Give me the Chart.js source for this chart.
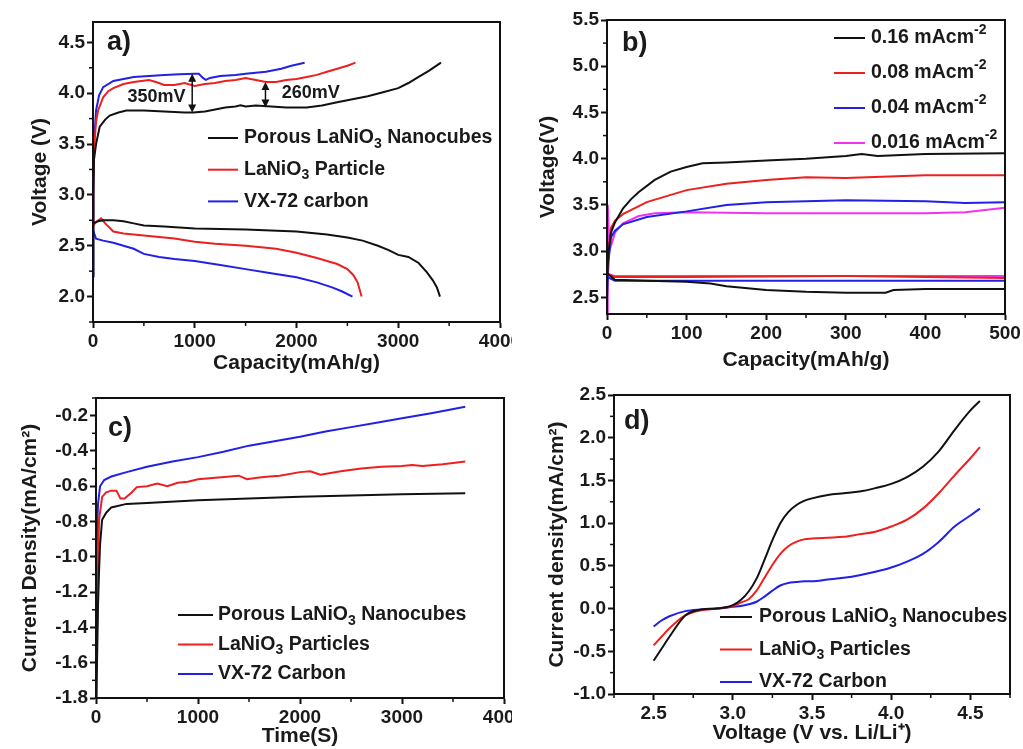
<!DOCTYPE html>
<html>
<head>
<meta charset="utf-8">
<script src="https://cdn.jsdelivr.net/npm/chart.js@4.4.1/dist/chart.umd.min.js"></script>
<style>
  body { margin: 0; background: #fff; }
  #quadro { position: relative; width: 1023px; height: 749px; overflow: hidden; background: #fff; }
  canvas { position: absolute; }
</style>
</head>
<body>
<div id="quadro">
  <canvas id="graficoA" width="512" height="380" style="left:0;top:0"></canvas>
  <canvas id="graficoB" width="511" height="380" style="left:512px;top:0"></canvas>
  <canvas id="graficoC" width="512" height="379" style="left:0;top:370px"></canvas>
  <canvas id="graficoD" width="511" height="379" style="left:512px;top:370px"></canvas>
</div>
<script>
// ---- a) charge / discharge, [capacity mAh/g, voltage V]
const aNanoCarga = [[0,2.2],[4,3.0],[10,3.35],[30,3.5],[66,3.67],[120,3.74],[164,3.78],[250,3.81],[328,3.83],[500,3.83],[700,3.82],[900,3.81],[985,3.81],[1100,3.82],[1200,3.84],[1300,3.86],[1400,3.87],[1450,3.88],[1500,3.87],[1600,3.88],[1750,3.87],[1900,3.86],[2100,3.86],[2250,3.88],[2400,3.91],[2550,3.94],[2700,3.97],[2850,4.01],[3000,4.05],[3100,4.1],[3200,4.16],[3300,4.22],[3420,4.3]];
const aNanoDescarga = [[0,2.72],[50,2.74],[100,2.75],[200,2.75],[300,2.74],[400,2.72],[500,2.7],[700,2.69],[1000,2.67],[1250,2.665],[1500,2.66],[1750,2.65],[2000,2.64],[2150,2.625],[2300,2.61],[2400,2.595],[2500,2.58],[2650,2.55],[2800,2.5],[2900,2.46],[3000,2.41],[3100,2.39],[3200,2.33],[3280,2.24],[3340,2.16],[3380,2.09],[3410,2.0]];
const aParticulaCarga = [[0,2.7],[3,3.2],[10,3.45],[30,3.72],[50,3.83],[100,3.96],[150,4.02],[200,4.05],[300,4.09],[400,4.11],[550,4.13],[620,4.11],[700,4.08],[800,4.08],[900,4.1],[1000,4.07],[1100,4.09],[1200,4.1],[1300,4.12],[1400,4.13],[1500,4.15],[1600,4.13],[1700,4.11],[1800,4.11],[1900,4.13],[2000,4.14],[2100,4.16],[2200,4.18],[2300,4.21],[2400,4.24],[2500,4.27],[2580,4.3]];
const aParticulaDescarga = [[0,2.7],[40,2.74],[80,2.77],[120,2.72],[200,2.64],[300,2.62],[400,2.61],[600,2.59],[800,2.57],[1000,2.54],[1200,2.52],[1500,2.5],[1800,2.47],[2000,2.43],[2200,2.38],[2400,2.32],[2500,2.27],[2560,2.21],[2600,2.14],[2640,2.0]];
const aCarbonoCarga = [[0,2.2],[3,3.1],[10,3.5],[30,3.83],[60,3.98],[100,4.06],[200,4.12],[300,4.14],[400,4.16],[550,4.17],[700,4.18],[850,4.185],[1000,4.19],[1040,4.19],[1080,4.15],[1110,4.13],[1150,4.15],[1250,4.17],[1400,4.18],[1500,4.19],[1700,4.21],[1850,4.24],[1950,4.27],[2080,4.3]];
const aCarbonoDescarga = [[0,2.65],[30,2.57],[100,2.55],[200,2.53],[300,2.5],[400,2.47],[500,2.42],[650,2.39],[800,2.37],[1000,2.35],[1250,2.31],[1500,2.27],[1750,2.23],[2000,2.19],[2200,2.14],[2350,2.09],[2450,2.05],[2550,2.0]];
const aLegenda = ['Porous LaNiO_{3} Nanocubes', 'LaNiO_{3} Particle', 'VX-72 carbon'];
const aSetas = [{ cap: 975, de: 3.81, ate: 4.19, texto: '350mV', capTexto: 625, vTexto: 3.96 },
                { cap: 1695, de: 3.86, ate: 4.11, texto: '260mV', capTexto: 2140, vTexto: 4.0 }];
const aTicksCap = [0, 1000, 2000, 3000, 4000];
const aTicksVolt = [2.0, 2.5, 3.0, 3.5, 4.0, 4.5];

// ---- b) different current densities
const b016Carga = [[0,2.7],[2,3.0],[5,3.2],[10,3.31],[20,3.46],[30,3.56],[40,3.64],[60,3.77],[80,3.86],[100,3.91],[120,3.95],[150,3.96],[200,3.98],[250,4.0],[300,4.03],[320,4.05],[340,4.03],[400,4.05],[500,4.06]];
const b016Descarga = [[0,2.76],[10,2.69],[50,2.68],[100,2.67],[130,2.65],[150,2.62],[200,2.58],[250,2.56],[300,2.55],[350,2.55],[360,2.58],[400,2.59],[500,2.59]];
const b008Carga = [[0,2.7],[2,3.0],[5,3.25],[10,3.33],[20,3.4],[50,3.53],[100,3.66],[150,3.73],[200,3.77],[250,3.8],[300,3.79],[400,3.82],[500,3.82]];
const b008Descarga = [[0,2.75],[10,2.72],[100,2.72],[300,2.73],[400,2.72],[500,2.71]];
const b004Carga = [[0,2.5],[2,2.9],[5,3.15],[10,3.22],[20,3.29],[50,3.37],[100,3.43],[150,3.5],[200,3.53],[300,3.55],[400,3.54],[450,3.52],[500,3.53]];
const b004Descarga = [[0,2.72],[10,2.68],[100,2.68],[300,2.68],[500,2.68]];
const b0016Carga = [[0,2.3],[1,3.5],[3,3.0],[10,3.2],[20,3.3],[40,3.38],[60,3.41],[100,3.42],[200,3.41],[300,3.41],[400,3.41],[450,3.42],[500,3.47]];
const b0016Descarga = [[0,2.76],[10,2.73],[100,2.73],[300,2.73],[500,2.73]];
const bLegenda = ['0.16 mAcm^{-2}', '0.08 mAcm^{-2}', '0.04 mAcm^{-2}', '0.016 mAcm^{-2}'];
const bTicksCap = [0, 100, 200, 300, 400, 500];
const bTicksVolt = [2.5, 3.0, 3.5, 4.0, 4.5, 5.0, 5.5];

// ---- c) chronoamperometry, [time s, current mA/cm2]
const cNano = [[0,-1.8],[10,-1.6],[20,-1.27],[30,-1.08],[40,-0.93],[60,-0.79],[100,-0.75],[150,-0.72],[300,-0.7],[500,-0.695],[1000,-0.68],[1500,-0.67],[2000,-0.66],[2500,-0.652],[3000,-0.645],[3620,-0.64]];
const cParticula = [[0,-1.8],[8,-1.5],[15,-1.2],[30,-0.79],[60,-0.66],[100,-0.635],[150,-0.625],[200,-0.625],[240,-0.67],[280,-0.67],[350,-0.635],[400,-0.605],[500,-0.6],[600,-0.585],[700,-0.6],[800,-0.58],[900,-0.575],[1000,-0.56],[1200,-0.55],[1400,-0.54],[1480,-0.56],[1600,-0.55],[1700,-0.545],[1800,-0.54],[2000,-0.52],[2100,-0.515],[2200,-0.535],[2400,-0.515],[2600,-0.5],[2800,-0.49],[3000,-0.485],[3100,-0.48],[3200,-0.485],[3400,-0.475],[3620,-0.46]];
const cCarbono = [[0,-1.25],[10,-0.85],[20,-0.7],[40,-0.6],[80,-0.565],[150,-0.545],[300,-0.52],[500,-0.49],[750,-0.46],[1000,-0.435],[1250,-0.405],[1500,-0.37],[1750,-0.345],[2000,-0.32],[2250,-0.29],[2500,-0.265],[2750,-0.24],[3000,-0.215],[3300,-0.185],[3620,-0.15]];
const cLegenda = ['Porous LaNiO_{3} Nanocubes', 'LaNiO_{3} Particles', 'VX-72 Carbon'];
const cTicksTempo = [0, 1000, 2000, 3000, 4000];
const cTicksCorrente = [-1.8, -1.6, -1.4, -1.2, -1.0, -0.8, -0.6, -0.4, -0.2];

// ---- d) linear sweep
const dVolt = [2.5, 2.55, 2.6, 2.7, 2.8, 2.9, 3.0, 3.05, 3.1, 3.15, 3.2, 3.25, 3.3, 3.35, 3.4, 3.45, 3.5, 3.6, 3.7, 3.8, 3.9, 4.0, 4.1, 4.2, 4.3, 4.4, 4.5, 4.56];
const dNano = [-0.61, -0.47, -0.33, -0.08, -0.01, 0.0, 0.04, 0.1, 0.2, 0.35, 0.57, 0.8, 1.0, 1.13, 1.21, 1.26, 1.29, 1.33, 1.35, 1.37, 1.41, 1.46, 1.54, 1.66, 1.84, 2.09, 2.32, 2.43];
const dParticula = [-0.43, -0.33, -0.23, -0.08, -0.02, 0.0, 0.03, 0.07, 0.11, 0.21, 0.36, 0.51, 0.64, 0.73, 0.78, 0.81, 0.82, 0.83, 0.84, 0.87, 0.9, 0.96, 1.04, 1.17, 1.35, 1.56, 1.76, 1.89];
const dCarbono = [-0.21, -0.14, -0.09, -0.03, -0.01, 0.0, 0.02, 0.03, 0.05, 0.08, 0.14, 0.21, 0.27, 0.3, 0.31, 0.32, 0.32, 0.34, 0.36, 0.39, 0.43, 0.48, 0.55, 0.64, 0.78, 0.96, 1.09, 1.17];
const dLegenda = ['Porous LaNiO_{3} Nanocubes', 'LaNiO_{3} Particles', 'VX-72 Carbon'];
const dTicksVolt = [2.5, 3.0, 3.5, 4.0, 4.5];
const dTicksCorrente = [-1.0, -0.5, 0.0, 0.5, 1.0, 1.5, 2.0, 2.5];

const FONTE = '"Liberation Sans", Arial, Helvetica, sans-serif';
const PRETO = '#111111', VERMELHO = '#ee1f1f', AZUL = '#2020e6', MAGENTA = '#f033f0';
const TEXTO = '#1a1a1a';

Chart.defaults.font.family = FONTE;
Chart.defaults.font.weight = 'bold';
Chart.defaults.color = TEXTO;

// text with _{sub} and ^{sup}
function escreverRico(ctx, texto, x, y, tam) {
    const re = /([_^])\{([^}]*)\}/g;
    const partes = [];
    let ultimo = 0, m;
    while ((m = re.exec(texto))) {
        if (m.index > ultimo) partes.push([texto.slice(ultimo, m.index), 0]);
        partes.push([m[2], m[1] === '_' ? 1 : -1]);
        ultimo = re.lastIndex;
    }
    if (ultimo < texto.length) partes.push([texto.slice(ultimo), 0]);
    partes.forEach(function (p) {
        const t = p[0], k = p[1];
        const fs = k ? tam * 0.72 : tam;
        ctx.font = `bold ${fs}px ${FONTE}`;
        const dy = k === 1 ? tam * 0.3 : (k === -1 ? -tam * 0.42 : 0);
        ctx.fillText(t, x, y + dy);
        x += ctx.measureText(t).width;
    });
}

const decoracao = {
    id: 'decoracao',
    afterDraw(chart, args, opts) {
        const ctx = chart.ctx;
        const area = chart.chartArea;
        ctx.save();
        ctx.strokeStyle = PRETO;
        ctx.lineWidth = 2;
        ctx.strokeRect(area.left, area.top, area.right - area.left, area.bottom - area.top);

        // minor ticks halfway between the major ones
        ['x', 'y'].forEach(function (id) {
            const s = chart.scales[id];
            const vals = s.ticks.map(t => t.value);
            const meio = (vals[1] - vals[0]) / 2;
            const menores = vals.map(v => v - meio).concat([vals[vals.length - 1] + meio]);
            ctx.lineWidth = 1.5;
            menores.forEach(function (v) {
                if (v < s.min - 1e-9 || v > s.max + 1e-9) return;
                const p = s.getPixelForValue(v);
                ctx.beginPath();
                if (id === 'x') { ctx.moveTo(p, area.bottom); ctx.lineTo(p, area.bottom + 4); }
                else { ctx.moveTo(area.left, p); ctx.lineTo(area.left - 4, p); }
                ctx.stroke();
            });
        });

        ctx.fillStyle = TEXTO;
        ctx.textBaseline = 'middle';
        ctx.font = `bold 27px ${FONTE}`;
        ctx.fillText(opts.rotulo, area.left + opts.rotuloPos[0], area.top + opts.rotuloPos[1]);

        const leg = opts.legenda;
        leg.itens.forEach(function (texto, i) {
            const y = area.top + leg.dy + i * leg.passo;
            const x = area.left + leg.dx;
            ctx.strokeStyle = leg.cores[i];
            ctx.lineWidth = 2;
            ctx.beginPath();
            ctx.moveTo(x, y);
            ctx.lineTo(x + leg.linha, y);
            ctx.stroke();
            ctx.fillStyle = TEXTO;
            escreverRico(ctx, texto, x + leg.linha + leg.gap, y, 19.5);
        });

        (opts.setas || []).forEach(function (s) {
            const sx = chart.scales.x, sy = chart.scales.y;
            const x = sx.getPixelForValue(s.cap);
            const y1 = sy.getPixelForValue(s.ate), y2 = sy.getPixelForValue(s.de);
            ctx.strokeStyle = PRETO;
            ctx.fillStyle = PRETO;
            ctx.lineWidth = 1.5;
            ctx.beginPath();
            ctx.moveTo(x, y1 + 4);
            ctx.lineTo(x, y2 - 4);
            ctx.stroke();
            ctx.beginPath();
            ctx.moveTo(x, y1); ctx.lineTo(x - 4, y1 + 8); ctx.lineTo(x + 4, y1 + 8); ctx.closePath();
            ctx.fill();
            ctx.beginPath();
            ctx.moveTo(x, y2); ctx.lineTo(x - 4, y2 - 8); ctx.lineTo(x + 4, y2 - 8); ctx.closePath();
            ctx.fill();
            ctx.font = `bold 18px ${FONTE}`;
            ctx.textAlign = 'center';
            ctx.fillStyle = TEXTO;
            ctx.fillText(s.texto, sx.getPixelForValue(s.capTexto), sy.getPixelForValue(s.vTexto));
            ctx.textAlign = 'left';
        });
        ctx.restore();
    }
};

function serie(pontos, cor, suave) {
    return {
        data: pontos.map(p => ({ x: p[0], y: p[1] })),
        borderColor: cor,
        borderWidth: 2,
        pointRadius: 0,
        fill: false,
        tension: 0,
        cubicInterpolationMode: suave ? 'monotone' : 'default'
    };
}

function criarEixo(min, max, ticks, titulo, casas, tamanho, tituloPad) {
    return {
        type: 'linear',
        min: min,
        max: max,
        afterBuildTicks: function (s) { s.ticks = ticks.map(v => ({ value: v })); },
        afterFit: function (s) {
            if (s.isHorizontal()) { s.height = tamanho; s.paddingLeft = 0; s.paddingRight = 0; }
            else { s.width = tamanho; s.paddingTop = 0; s.paddingBottom = 0; }
        },
        grid: { drawOnChartArea: false, drawTicks: true, tickLength: 6, tickWidth: 2, tickColor: PRETO },
        border: { display: true, color: PRETO, width: 2 },
        ticks: {
            padding: 2,
            color: TEXTO,
            font: { size: 19, weight: 'bold' },
            callback: v => Number(v).toFixed(casas)
        },
        title: { display: true, text: titulo, color: TEXTO, font: { size: 21, weight: 'bold' }, padding: tituloPad }
    };
}

function plotarGrafico(id, datasets, eixoX, eixoY, pad, deco) {
    new Chart(document.getElementById(id), {
        type: 'line',
        data: { datasets: datasets },
        options: {
            responsive: false,
            animation: false,
            layout: { padding: { left: 0, top: pad.top, right: pad.right, bottom: 0 } },
            plugins: { legend: { display: false }, tooltip: { enabled: false }, decoracao: deco },
            scales: { x: eixoX, y: eixoY }
        },
        plugins: [decoracao]
    });
}

plotarGrafico('graficoA',
    [serie(aNanoCarga, PRETO), serie(aNanoDescarga, PRETO),
     serie(aParticulaCarga, VERMELHO), serie(aParticulaDescarga, VERMELHO),
     serie(aCarbonoCarga, AZUL), serie(aCarbonoDescarga, AZUL)],
    criarEixo(0, 4000, aTicksCap, 'Capacity(mAh/g)', 0, 58, { top: 0, bottom: 4 }),
    criarEixo(1.75, 4.7, aTicksVolt, 'Voltage (V)', 1, 93, { top: 28, bottom: 0 }),
    { top: 22, right: 12 },
    { rotulo: 'a)', rotuloPos: [14, 21], setas: aSetas,
      legenda: { itens: aLegenda, cores: [PRETO, VERMELHO, AZUL], dx: 115, dy: 116, passo: 31.7, linha: 30, gap: 6 } });

plotarGrafico('graficoB',
    [serie(b016Carga, PRETO), serie(b016Descarga, PRETO),
     serie(b008Carga, VERMELHO), serie(b008Descarga, VERMELHO),
     serie(b004Carga, AZUL), serie(b004Descarga, AZUL),
     serie(b0016Carga, MAGENTA), serie(b0016Descarga, MAGENTA)],
    criarEixo(0, 500, bTicksCap, 'Capacity(mAh/g)', 0, 66, { top: 0, bottom: 7 }),
    criarEixo(2.32, 5.5, bTicksVolt, 'Voltage(V)', 1, 95, { top: 24, bottom: 0 }),
    { top: 20, right: 18 },
    { rotulo: 'b)', rotuloPos: [15, 24],
      legenda: { itens: bLegenda, cores: [PRETO, VERMELHO, AZUL, MAGENTA], dx: 227, dy: 18, passo: 35, linha: 31, gap: 6 } });

plotarGrafico('graficoC',
    [serie(cNano, PRETO), serie(cParticula, VERMELHO), serie(cCarbono, AZUL)],
    criarEixo(0, 4000, cTicksTempo, 'Time(S)', 0, 51, { top: 0, bottom: 0 }),
    criarEixo(-1.8, -0.1, cTicksCorrente, 'Current Density(mA/cm²)', 1, 96, { top: 18, bottom: 0 }),
    { top: 28, right: 8 },
    { rotulo: 'c)', rotuloPos: [12, 31],
      legenda: { itens: cLegenda, cores: [PRETO, VERMELHO, AZUL], dx: 82, dy: 217, passo: 29.5, linha: 35, gap: 5 } });

plotarGrafico('graficoD',
    [serie(dVolt.map((v, i) => [v, dNano[i]]), PRETO, true),
     serie(dVolt.map((v, i) => [v, dParticula[i]]), VERMELHO, true),
     serie(dVolt.map((v, i) => [v, dCarbono[i]]), AZUL, true)],
    criarEixo(2.25, 4.75, dTicksVolt, 'Voltage (V vs. Li/Li⁺)', 1, 55, { top: 0, bottom: 3 }),
    criarEixo(-1.0, 2.5, dTicksCorrente, 'Current density(mA/cm²)', 1, 102, { top: 33, bottom: 0 }),
    { top: 25, right: 13 },
    { rotulo: 'd)', rotuloPos: [10, 27],
      legenda: { itens: dLegenda, cores: [PRETO, VERMELHO, AZUL], dx: 106, dy: 222, passo: 32.5, linha: 32, gap: 7 } });
</script>
</body>
</html>
